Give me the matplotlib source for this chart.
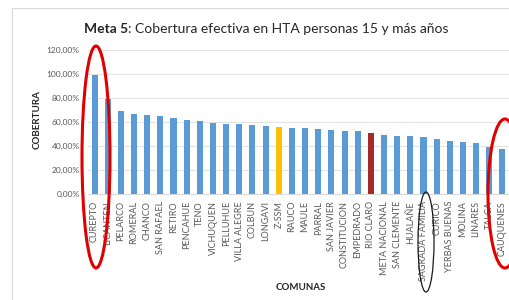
import numpy as np
import matplotlib
matplotlib.use("Agg")
import matplotlib.pyplot as plt
from matplotlib.patches import Ellipse, Rectangle
from matplotlib.ticker import FuncFormatter

plt.rcParams['font.family'] = ['Lato', 'DejaVu Sans']

comunas = ["CUREPTO", "LICANTEN", "PELARCO", "ROMERAL", "CHANCO", "SAN RAFAEL",
           "RETIRO", "PENCAHUE", "TENO", "VICHUQUEN", "PELLUHUE", "VILLA ALEGRE",
           "COLBUN", "LONGAVI", "Z-SSM", "RAUCO", "MAULE", "PARRAL", "SAN JAVIER",
           "CONSTITUCION", "EMPEDRADO", "RIO CLARO", "META NACIONAL", "SAN CLEMENTE",
           "HUALAÑE", "SAGRADA FAMILIA", "CURICO", "YERBAS BUENAS", "MOLINA",
           "LINARES", "TALCA", "CAUQUENES"]
cobertura = [99.2, 78.9, 69.0, 67.0, 65.6, 64.7, 63.6, 61.4, 60.6, 59.2, 58.3, 58.3,
             57.2, 57.0, 56.0, 55.3, 55.3, 54.4, 53.0, 52.2, 52.2, 51.1, 49.4, 48.6,
             48.0, 47.2, 45.8, 44.4, 43.3, 42.2, 39.4, 37.8]

BLUE = "#5B9BD5"
colors = [BLUE] * len(comunas)
colors[comunas.index("Z-SSM")] = "#FFC000"
colors[comunas.index("RIO CLARO")] = "#A52A2A"

W, H = 509, 300
fig = plt.figure(figsize=(W / 100, H / 100), dpi=100)

def fx(px):
    return px / W

def fy(py):
    return 1 - py / H

# chart frame
fig.patches.append(Rectangle((fx(12), fy(310)), fx(520) - fx(12), fy(8) - fy(310),
                             transform=fig.transFigure, fill=False,
                             edgecolor="#D9D9D9", linewidth=0.8))

ax = fig.add_axes([fx(88), fy(194), fx(509) - fx(88), fy(50) - fy(194)])
x = np.arange(len(comunas))
ax.bar(x, cobertura, width=0.46, color=colors, zorder=3)

ax.set_xlim(-0.5, len(comunas) - 0.5)
ax.set_ylim(0, 120)
ax.set_yticks(np.arange(0, 121, 20))
ax.yaxis.set_major_formatter(FuncFormatter(lambda v, p: f"{v:.2f}%".replace(".", ",")))
ax.grid(axis="y", color="#E3E3E3", linewidth=0.8, zorder=0)
ax.set_xticks(x)
ax.set_xticklabels(comunas, rotation=90, fontsize=6.5, color="#595959")
ax.tick_params(axis="y", length=0, pad=6, labelsize=6, labelcolor="#595959")
ax.tick_params(axis="x", length=0, pad=5)
for s in ["top", "right", "left"]:
    ax.spines[s].set_visible(False)
ax.spines["bottom"].set_color("#D9D9D9")

fig.text(fx(37), fy(120), "COBERTURA", rotation=90, fontsize=7, fontweight="bold",
         ha="center", va="center", color="#262626")
fig.text(fx(301), fy(287), "COMUNAS", fontsize=7, fontweight="bold",
         ha="center", va="center", color="#262626")

fig.text(fx(128), fy(29), "Meta 5", fontsize=10, fontweight="bold",
         ha="right", va="center", color="#262626")
fig.text(fx(128), fy(29), ": Cobertura efectiva en HTA personas 15 y más años",
         fontsize=10, ha="left", va="center", color="#262626")

# hand-drawn highlight ellipses
def ellipse(x0, x1, y0, y1, color, lw):
    e = Ellipse(((fx(x0) + fx(x1)) / 2, (fy(y0) + fy(y1)) / 2),
                fx(x1) - fx(x0), fy(y0) - fy(y1), transform=fig.transFigure,
                fill=False, edgecolor=color, linewidth=lw)
    fig.patches.append(e)

ellipse(82, 110, 46, 268, "#E00000", 2.2)
ellipse(488, 522, 119, 268, "#E00000", 2.2)
ellipse(418, 434, 192, 292, "#1A1A1A", 0.9)

fig.savefig("out.png", dpi=100)
